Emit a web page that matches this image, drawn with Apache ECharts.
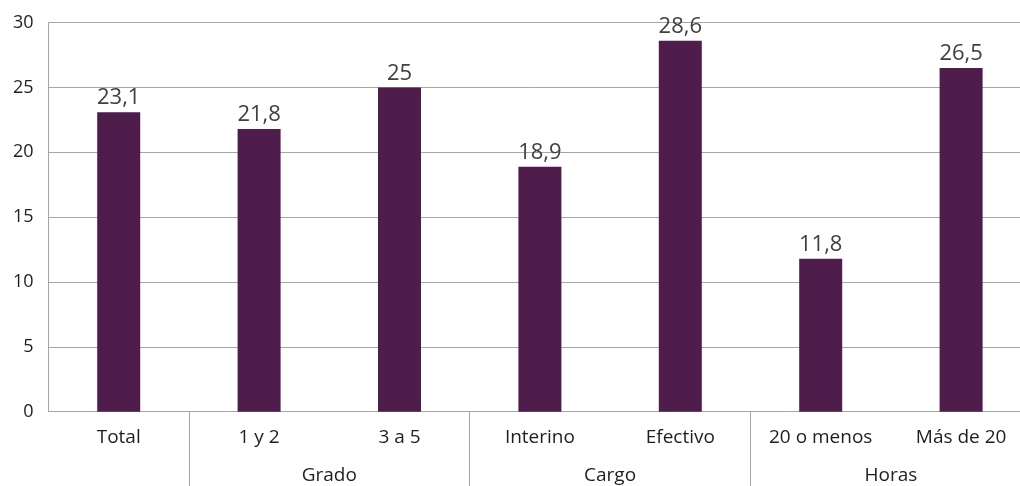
<!DOCTYPE html>
<html>
<head>
<meta charset="utf-8">
<script src="https://cdn.jsdelivr.net/npm/echarts@6/dist/echarts.min.js"></script>
<style>
html,body{margin:0;padding:0;background:#fff;}
#c{width:1020px;height:486px;}
</style>
</head>
<body>
<div id="c"></div>
<script>
var categories = ['Total', '1 y 2', '3 a 5', 'Interino', 'Efectivo', '20 o menos', 'Más de 20'];
var values = [23.1, 21.8, 25, 18.9, 28.6, 11.8, 26.5];
var groupNames = ['', 'Grado', 'Cargo', 'Horas'];
var groupSpans = [1, 2, 2, 2];
var yTicks = [0, 5, 10, 15, 20, 25, 30];

var boundaries = [], centers = {}, acc = 0;
groupSpans.forEach(function (s, i) {
  var c = acc + s / 2;
  if (groupNames[i]) centers[c] = groupNames[i];
  acc += s;
  if (acc < categories.length) boundaries.push(acc);
});
var centerVals = Object.keys(centers).map(Number);

var chart = echarts.init(document.getElementById('c'), null, {renderer: 'canvas'});
var font = '"Open Sans", sans-serif';
chart.setOption({
  animation: false,
  grid: {left: 48.5, right: -11.3, top: 22.7, bottom: 74.3, containLabel: false, outerBoundsMode: 'none'},
  xAxis: [{
    type: 'category',
    data: categories,
    axisLine: {show: true, lineStyle: {color: '#a6a6a6', width: 1}},
    axisTick: {show: false},
    axisLabel: {color: '#1e1e1e', fontSize: 19, fontFamily: font, margin: 16, interval: 0, hideOverlap: false}
  }, {
    type: 'value',
    min: 0,
    max: categories.length,
    position: 'bottom',
    axisLine: {show: false},
    splitLine: {show: false},
    axisTick: {show: true, customValues: boundaries, length: 80, inside: false, lineStyle: {color: '#a6a6a6', width: 1}},
    axisLabel: {show: true, customValues: centerVals, color: '#1e1e1e', fontSize: 19, fontFamily: font, margin: 54,
      formatter: function (v) { return centers[v] || ''; }}
  }],
  yAxis: {
    type: 'value',
    min: yTicks[0],
    max: yTicks[yTicks.length - 1],
    interval: yTicks[1] - yTicks[0],
    axisLine: {show: true, lineStyle: {color: '#a6a6a6', width: 1}},
    axisTick: {show: false},
    splitLine: {show: true, lineStyle: {color: '#a6a6a6', width: 1}},
    axisLabel: {color: '#1e1e1e', fontSize: 18, fontFamily: font, margin: 15}
  },
  series: [{
    type: 'bar',
    xAxisIndex: 0,
    data: values,
    barWidth: 43,
    itemStyle: {color: '#4f1d4c'},
    label: {
      show: true, position: 'top', distance: 3,
      color: '#404040', fontSize: 22, fontFamily: font,
      formatter: function (p) { return String(p.value).replace('.', ','); }
    }
  }]
});
</script>
</body>
</html>
